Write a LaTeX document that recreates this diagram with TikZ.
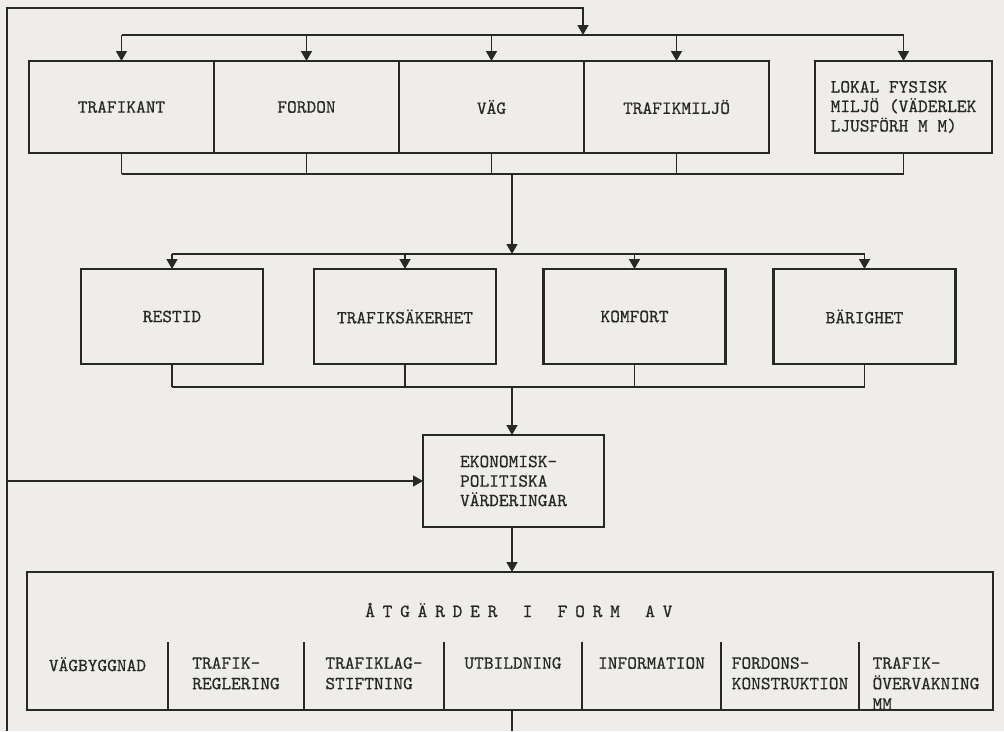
\documentclass[tikz,border=0pt]{standalone}
\usepackage{fontspec}
\usepackage{tikz}
\usetikzlibrary{arrows.meta,positioning}
\newfontfamily\typ[FakeBold=0.6]{lmmono10-regular.otf}
\definecolor{paper}{RGB}{238,237,233}
\definecolor{ink}{RGB}{40,40,40}
\tikzset{
  >={Triangle[length=10pt,width=11pt]},
  flow/.style={->, line width=1.6pt, draw=ink},
  link/.style={line width=1.6pt, draw=ink},
  rule/.style={line width=2pt, draw=ink},
  box/.style={
    draw=ink,
    line width=2.2pt,
    fill=paper,
    outer sep=0pt,
    align=center,
    inner sep=4pt,
    text=ink,
    font=\typ\fontsize{18.5}{19.5}\selectfont
  },
  toprow/.style={box, minimum width=185, minimum height=92},
  midrow/.style={box, minimum width=182, minimum height=95},
  cell/.style={anchor=north, align=left, inner sep=0pt, text=ink,
    font=\typ\fontsize{18.5}{20.5}\selectfont},
  titel/.style={anchor=west, inner sep=0pt, text=ink, font=\typ\fontsize{18.5}{19.5}\selectfont}
}
\begin{document}
\begin{tikzpicture}[x=1pt,y=-1pt]
  \useasboundingbox (0,0) rectangle (1004,731);
  \fill[paper] (0,0) rectangle (1004,731);

  \node[toprow] (trafikant) at (121.5,107) {TRAFIKANT};
  \node[toprow,right=0pt of trafikant] (fordon) {FORDON};
  \node[toprow,right=0pt of fordon] (vag) {VÄG};
  \node[toprow,right=0pt of vag] (trafikmiljo) {TRAFIKMILJÖ};
  \node[toprow,minimum width=177,align=left] (lokal) at (903.5,107) {LOKAL FYSISK\\MILJÖ (VÄDERLEK\\LJUSFÖRH M M)};

  \node[midrow] (restid) at (172,316.5) {RESTID};
  \node[midrow] (sakerhet) at (405,316.5) {TRAFIKSÄKERHET};
  \node[midrow] (komfort) at (634.5,316.5) {KOMFORT};
  \node[midrow] (barighet) at (864.5,316.5) {BÄRIGHET};

  \node[box,minimum width=181,minimum height=92,align=left] (ekonomisk) at (513.5,481) {EKONOMISK-\\POLITISKA\\VÄRDERINGAR};

  \node[box,minimum width=966,minimum height=138] (atgard) at (510,641) {};
  \node[titel] (rubrik) at (365,610) {\foreach \c in {Å,T,G,Ä,R,D,E,R,{},I,{},F,O,R,M,{},A,V}{\makebox[17.5pt][l]{\c}}};
  \foreach \x/\n/\t in {97.5/c1/{VÄGBYGGNAD},236/c2/{TRAFIK-\\REGLERING},374/c3/{TRAFIKLAG-\\STIFTNING},
    513/c4/{UTBILDNING},651.5/c5/{INFORMATION},790/c6/{FORDONS-\\KONSTRUKTION},926/c7/{TRAFIK-\\ÖVERVAKNING\\MM}}{
    \node[cell] (\n) at (\x,657) {\t};
  }
  \foreach \x in {168,304,444,582,721,859}{
    \draw[rule] (\x,642) -- (\x,710);
  }

  \coordinate (samla1) at (512,174);
  \coordinate (dela2) at (512,254);
  \coordinate (samla2) at (512,387);
  \coordinate (dela1) at (583,35);
  \coordinate (hornet) at (7,8);
  \coordinate (ingang) at (7,731);
  \coordinate (utgang) at (512,731);

  \draw[flow] (ingang) -- (hornet) -| (dela1);
  \draw[link] (trafikant.north |- dela1) -- (lokal.north |- dela1);
  \foreach \n in {trafikant,fordon,vag,trafikmiljo,lokal}{
    \draw[flow] (\n.north |- dela1) -- (\n.north);
    \draw[link] (\n.south) -- (\n.south |- samla1);
  }
  \draw[link] (trafikant.south |- samla1) -- (lokal.south |- samla1);
  \draw[flow] (samla1) -- (dela2);

  \draw[link] (restid.north |- dela2) -- (barighet.north |- dela2);
  \foreach \n in {restid,sakerhet,komfort,barighet}{
    \draw[flow] (\n.north |- dela2) -- (\n.north);
    \draw[link] (\n.south) -- (\n.south |- samla2);
  }
  \draw[link] (restid.south |- samla2) -- (barighet.south |- samla2);
  \draw[flow] (samla2) -- (samla2 |- ekonomisk.north);

  \draw[flow] (ekonomisk.west -| hornet) -- (ekonomisk.west);
  \draw[flow] (samla2 |- ekonomisk.south) -- (samla2 |- atgard.north);
  \draw[link] (utgang |- atgard.south) -- (utgang);
\end{tikzpicture}
\end{document}
